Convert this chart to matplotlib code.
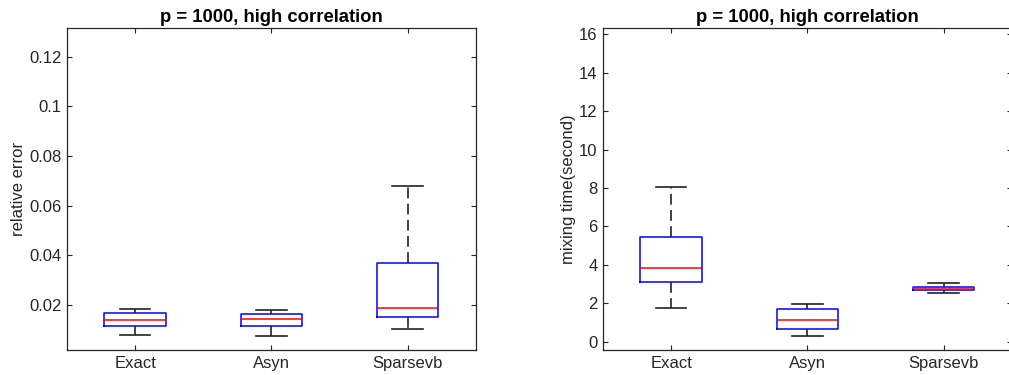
import numpy as np
import matplotlib
matplotlib.use("Agg")
import matplotlib.pyplot as plt

plt.rcParams['font.family'] = ['Liberation Sans', 'DejaVu Sans']

methods = ['Exact', 'Asyn', 'Sparsevb']

# relative error: (lower whisker, q1, median, q3, upper whisker)
err_lo = [0.0078, 0.0075, 0.0101]
err_q1 = [0.0113, 0.0114, 0.0152]
err_med = [0.0138, 0.0141, 0.0188]
err_q3 = [0.0168, 0.0161, 0.0367]
err_hi = [0.0183, 0.0180, 0.0679]

# mixing time (second)
time_lo = [1.77, 0.31, 2.55]
time_q1 = [3.09, 0.68, 2.71]
time_med = [3.82, 1.13, 2.80]
time_q3 = [5.43, 1.70, 2.86]
time_hi = [8.04, 1.96, 3.06]

title = 'p = 1000, high correlation'
txt_col = '#262626'


def make_stats(lo, q1, med, q3, hi):
    return [dict(whislo=a, q1=b, med=c, q3=d, whishi=e, fliers=[])
            for a, b, c, d, e in zip(lo, q1, med, q3, hi)]


def draw(ax, stats, ylim, yticks, yticklabels, ylabel):
    pos = np.arange(1, len(methods) + 1)
    ax.bxp(stats, positions=pos, widths=0.45, capwidths=0.225,
           showfliers=False,
           boxprops=dict(color='#0000ff', lw=1.1),
           medianprops=dict(color='#ff0000', lw=1.1),
           whiskerprops=dict(color='#222222', lw=1.2, linestyle=(0, (6.5, 3.2))),
           capprops=dict(color='#222222', lw=1.2))
    ax.set_xlim(0.5, 3.5)
    ax.set_ylim(*ylim)
    ax.set_xticks(pos)
    ax.set_xticklabels(methods)
    ax.set_yticks(yticks)
    ax.set_yticklabels(yticklabels)
    ax.set_ylabel(ylabel, fontsize=12, color=txt_col, labelpad=2)
    ax.set_title(title, fontsize=13.3, fontweight='bold', pad=4)
    ax.tick_params(direction='in', top=True, right=True, length=3.6,
                   width=0.8, colors=txt_col, labelsize=12, pad=4)
    for s in ax.spines.values():
        s.set_color(txt_col)
        s.set_linewidth(0.9)


fig = plt.figure(figsize=(10.09, 3.75), dpi=100)
ax1 = fig.add_axes([0.0664, 0.0667, 0.405, 0.8587])
ax2 = fig.add_axes([0.5976, 0.0667, 0.4053, 0.8587])

draw(ax1, make_stats(err_lo, err_q1, err_med, err_q3, err_hi),
     (0.00173, 0.1316), [0.02, 0.04, 0.06, 0.08, 0.1, 0.12],
     ['0.02', '0.04', '0.06', '0.08', '0.1', '0.12'], 'relative error')
draw(ax2, make_stats(time_lo, time_q1, time_med, time_q3, time_hi),
     (-0.43, 16.33), [0, 2, 4, 6, 8, 10, 12, 14, 16],
     ['0', '2', '4', '6', '8', '10', '12', '14', '16'], 'mixing time(second)')

fig.savefig('out.png', dpi=100)
